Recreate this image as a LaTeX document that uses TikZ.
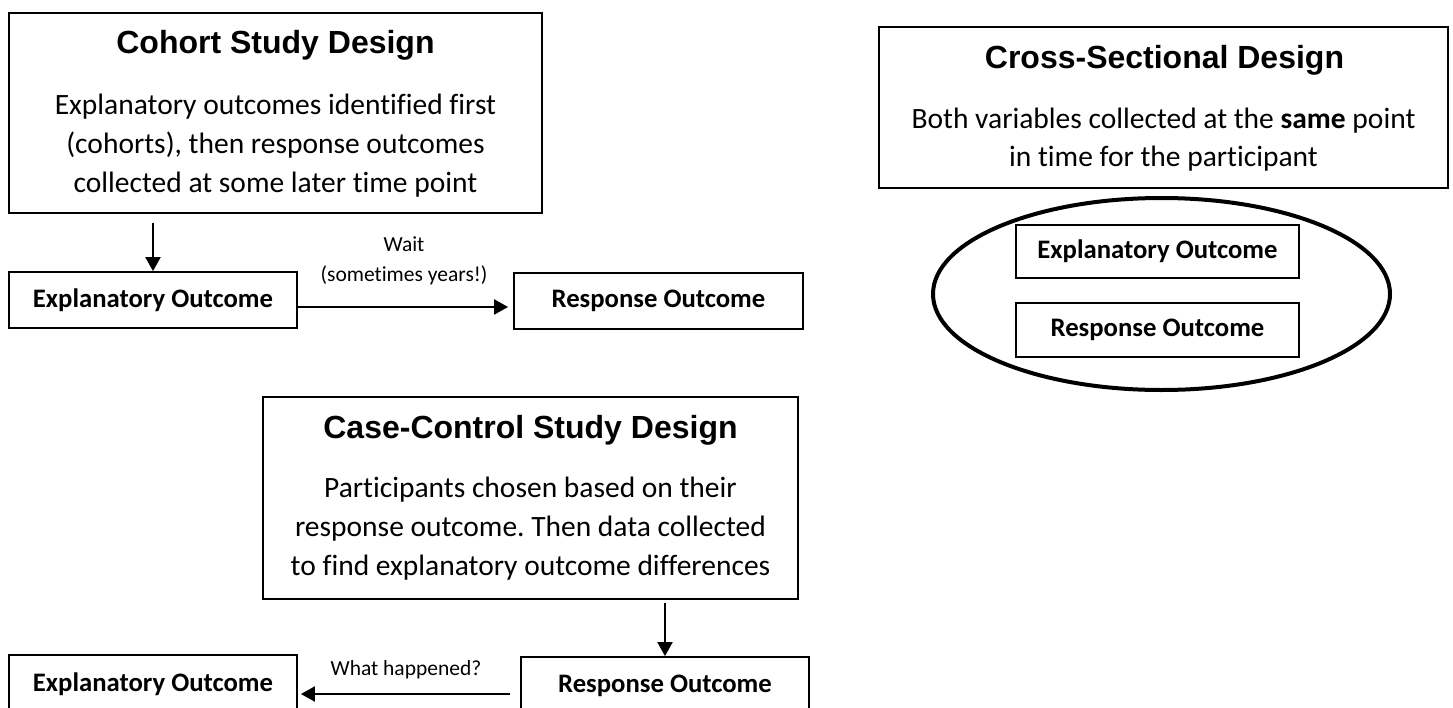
\documentclass[tikz,border=0pt]{standalone}
\usepackage{fontspec}
\setmainfont{Carlito}[Ligatures=NoCommon]
\newfontfamily\titlefont{Liberation Sans}
\usetikzlibrary{arrows.meta,shapes.geometric}
\frenchspacing
\tikzset{
  box/.style={draw, line width=1.8pt, inner sep=0pt},
  ttl/.style={font=\titlefont\bfseries\fontsize{32}{36}\selectfont, inner sep=0pt, anchor=base},
  body/.style={font=\fontsize{29.5}{38.7}\selectfont, align=center, inner sep=0pt},
  lbl/.style={font=\bfseries\fontsize{26.7}{30}\selectfont},
  small/.style={font=\fontsize{21.5}{30}\selectfont, align=center, inner sep=0pt},
  arr/.style={line width=2pt, -{Triangle[width=15pt,length=14pt]}},
}
\begin{document}
\begin{tikzpicture}[x=1pt,y=-1pt]
\useasboundingbox (0,0) rectangle (1453,707);
% Cohort
\node[box, minimum width=533pt, minimum height=200pt] (cohort) at (275.5,113) {};
\node[ttl] (cohortT) at (275.5,53) {Cohort Study Design};
\node[body] (cohortB) at (275.5,145.5) {Explanatory outcomes identified first\\(cohorts), then response outcomes\\collected at some later time point};
\node[box, lbl, minimum width=288pt, minimum height=56pt] (expA) at (153,300) {Explanatory Outcome};
\node[box, lbl, minimum width=289pt, minimum height=56pt] (respA) at (658.5,301) {Response Outcome};
\draw[arr] ([yshift=-9pt]cohort.south -| expA.north) -- (expA.north);
\draw[arr, shorten >=5pt] ([yshift=-7pt]expA.east) -- ([yshift=-7pt]expA.east -| respA.west);
\node[small] (wait) at (404,261) {Wait\\(sometimes years!)};
% Cross-sectional
\node[box, minimum width=569pt, minimum height=161pt] (cross) at (1163.5,107.5) {};
\node[ttl] (crossT) at (1164.5,68) {Cross-Sectional Design};
\node[body] (crossB) at (1163.5,139.5) {Both variables collected at the \textbf{same} point\\in time for the participant};
\node[draw, ellipse, line width=4pt, minimum width=457pt, minimum height=192pt, inner sep=0pt] (oval) at (1161.5,294) {};
\node[box, lbl, minimum width=283pt, minimum height=53pt] (expC) at (1157.5,251.5) {Explanatory Outcome};
\node[box, lbl, minimum width=283pt, minimum height=54pt] (respC) at (1157.5,330) {Response Outcome};
% Case-control
\node[box, minimum width=535pt, minimum height=202pt] (case) at (530.5,498) {};
\node[ttl] (caseT) at (530.5,438) {Case-Control Study Design};
\node[body] (caseB) at (530.5,528.5) {Participants chosen based on their\\response outcome. Then data collected\\to find explanatory outcome differences};
\node[box, lbl, minimum width=288pt, minimum height=58pt] (expB) at (153,684) {Explanatory Outcome};
\node[box, lbl, minimum width=288pt, minimum height=58pt] (respB) at (665,686) {Response Outcome};
\draw[arr] ([yshift=-3pt]case.south -| respB.north) -- (respB.north);
\draw[arr, shorten >=3pt] ([xshift=-10pt,yshift=-8pt]respB.west) -- ([yshift=-8pt]respB.west -| expB.east);
\node[small] (what) at (406,670) {What happened?};
\end{tikzpicture}
\end{document}
